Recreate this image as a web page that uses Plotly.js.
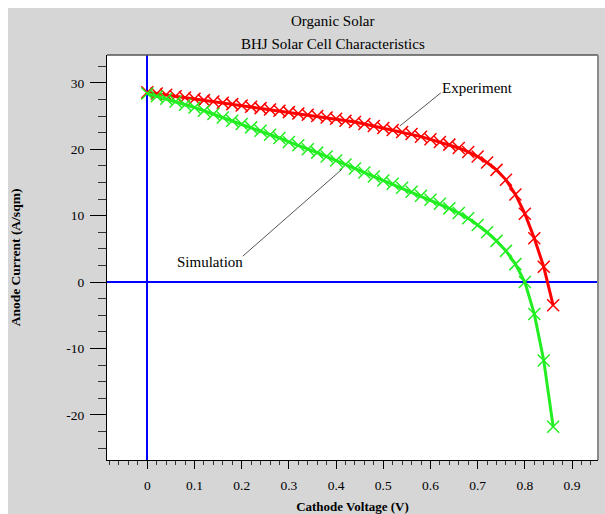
<!DOCTYPE html>
<html>
<head>
<meta charset="utf-8">
<script src="https://cdn.plot.ly/plotly-3.0.1.min.js"></script>
<style>html,body{margin:0;padding:0;background:#fff;}#chart{width:605px;height:514px;}</style>
</head>
<body>
<div id="chart"></div>
<script>
const voltage = [0,0.02,0.04,0.06,0.08,0.10,0.12,0.14,0.16,0.18,0.20,0.22,0.24,0.26,0.28,0.30,0.32,0.34,0.36,0.38,0.40,0.42,0.44,0.46,0.48,0.50,0.52,0.54,0.56,0.58,0.60,0.62,0.64,0.66,0.68,0.70,0.72,0.74,0.76,0.78,0.80,0.82,0.84,0.86];
const experiment = [28.6,28.4,28.2,28.0,27.8,27.6,27.4,27.2,27.0,26.8,26.6,26.4,26.2,26.0,25.8,25.6,25.4,25.2,25.0,24.8,24.6,24.3,24.1,23.8,23.5,23.2,22.9,22.6,22.3,21.9,21.5,21.1,20.7,20.2,19.6,18.9,18.0,16.9,15.4,13.2,10.3,6.6,2.3,-3.5];
const simulation = [28.4,28.0,27.6,27.2,26.7,26.3,25.8,25.3,24.8,24.3,23.8,23.3,22.8,22.2,21.7,21.1,20.6,20.0,19.5,18.9,18.3,17.7,17.1,16.5,15.9,15.3,14.8,14.2,13.6,13.0,12.4,11.8,11.1,10.4,9.6,8.6,7.5,6.2,4.7,2.7,0.0,-4.8,-11.8,-21.8];
const yTickVals = [30,20,10,0,-10,-20];
const yTickText = ['30','20','10','0','-10','-20'];
const seriesNames = ['Experiment','Simulation'];

const serif = 'Liberation Serif, Times New Roman, serif';

const traces = [
  {x: voltage, y: experiment, name: seriesNames[0], type: 'scatter', mode: 'lines+markers',
   line: {color: '#ff0000', width: 3},
   marker: {symbol: 'x-thin-open', size: 12, color: '#ff0000', line: {color: '#ff0000', width: 1.5}}},
  {x: voltage, y: simulation, name: seriesNames[1], type: 'scatter', mode: 'lines+markers',
   line: {color: '#22ee22', width: 3},
   marker: {symbol: 'x-thin-open', size: 12, color: '#22ee22', line: {color: '#22ee22', width: 1.5}}}
];

const layout = {
  width: 605, height: 514,
  margin: {l: 107, r: 7, t: 55, b: 54},
  paper_bgcolor: '#ffffff',
  plot_bgcolor: '#ffffff',
  showlegend: false,
  font: {family: serif, color: '#000', size: 13},
  title: {text: 'Organic Solar', font: {family: serif, size: 15, color: '#000'},
          x: 0.55, xref: 'container', xanchor: 'center', y: 1 - 21/514, yref: 'container', yanchor: 'middle'},
  xaxis: {
    range: [-0.0854, 0.955], dtick: 0.1, tick0: 0,
    ticks: 'outside', ticklen: 8, tickwidth: 1, tickcolor: '#000',
    minor: {tickmode: 'linear', tick0: 0, dtick: 0.02, ticks: 'outside', ticklen: 4, tickcolor: '#333', showgrid: false},
    showgrid: false, zeroline: true, zerolinecolor: '#0000ff', zerolinewidth: 2,
    showline: true, linecolor: '#000', linewidth: 1, mirror: false,
    ticklabelstandoff: 5,
    tickfont: {family: serif, size: 13.5, color: '#000'},
    title: {text: '<b>Cathode Voltage (V)</b>', font: {family: serif, size: 13, color: '#000'}, standoff: 12},
    automargin: false
  },
  yaxis: {
    range: [-26.8, 34.2], tickmode: 'array', tickvals: yTickVals, ticktext: yTickText,
    ticks: 'outside', ticklen: 16, tickwidth: 1, tickcolor: '#000',
    minor: {tickmode: 'linear', tick0: 0, dtick: 2.5, ticks: 'outside', ticklen: 8, tickcolor: '#333', showgrid: false},
    showgrid: false, zeroline: true, zerolinecolor: '#0000ff', zerolinewidth: 2,
    showline: true, linecolor: '#000', linewidth: 1, mirror: false,
    ticklabelstandoff: 3,
    tickfont: {family: serif, size: 13.5, color: '#000'},
    title: {text: '<b>Anode Current (A/sqm)</b>', font: {family: serif, size: 13.5, color: '#000'}, standoff: 42},
    automargin: false
  },
  shapes: [
    {type: 'rect', xref: 'paper', yref: 'paper', x0: -0.2016, x1: 1.02, y0: -0.14, y1: 1.116,
     fillcolor: '#d6d6d6', line: {width: 0}, layer: 'below'},
    {type: 'rect', xref: 'paper', yref: 'paper', x0: 0, x1: 1, y0: 0, y1: 1,
     fillcolor: '#ffffff', line: {width: 0}, layer: 'below'},
    {type: 'line', xref: 'paper', yref: 'paper', x0: 0, x1: 1, y0: 1, y1: 1, line: {color: '#555', width: 1.5}},
    {type: 'line', xref: 'paper', yref: 'paper', x0: 1, x1: 1, y0: 0, y1: 1, line: {color: '#8a8a8a', width: 2}},
    {type: 'line', xref: 'x', yref: 'y', x0: 0.535, y0: 23.5, x1: 0.622, y1: 28.5, line: {color: '#555', width: 1}},
    {type: 'line', xref: 'x', yref: 'y', x0: 0.4125, y0: 17.0, x1: 0.2023, y1: 3.9, line: {color: '#555', width: 1}}
  ],
  annotations: [
    {text: 'BHJ Solar Cell Characteristics', xref: 'paper', yref: 'paper', x: (333-107)/491, y: (460-44)/405,
     xanchor: 'center', yanchor: 'middle', showarrow: false, font: {family: serif, size: 15, color: '#000'}},
    {text: seriesNames[0], xref: 'x', yref: 'y', x: 0.7, y: 29.2, xanchor: 'center', yanchor: 'middle',
     showarrow: false, font: {family: serif, size: 15, color: '#000'}},
    {text: seriesNames[1], xref: 'x', yref: 'y', x: 0.133, y: 3.0, xanchor: 'center', yanchor: 'middle',
     showarrow: false, font: {family: serif, size: 15, color: '#000'}}
  ]
};

Plotly.newPlot('chart', traces, layout, {displayModeBar: false, staticPlot: true});
</script>
</body>
</html>
